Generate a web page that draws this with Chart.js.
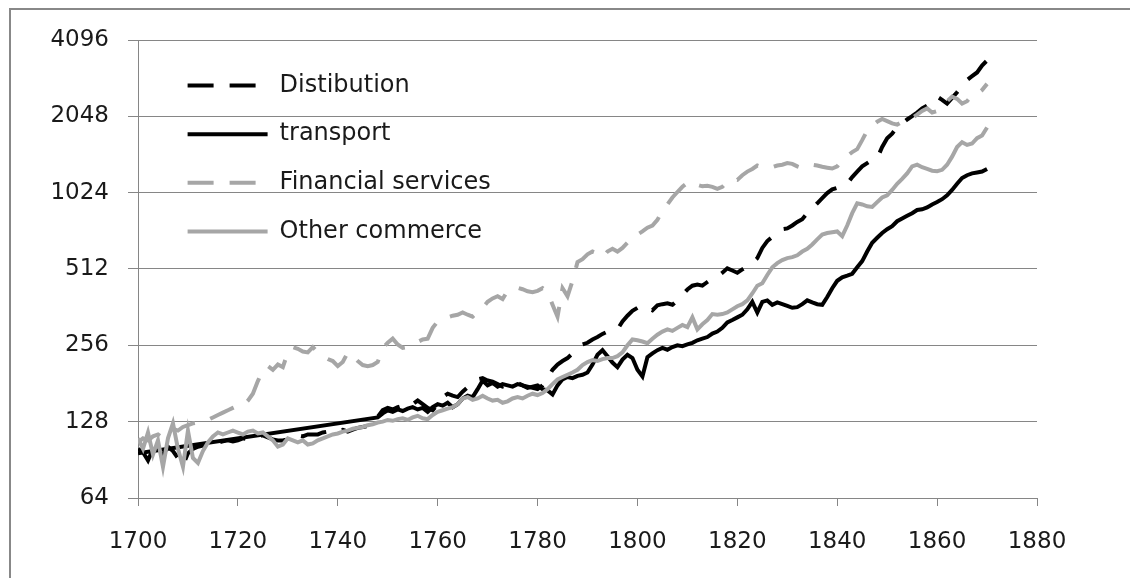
<!DOCTYPE html>
<html>
<head>
<meta charset="utf-8">
<title>Output by sector, 1700-1870</title>
<script src="https://cdn.jsdelivr.net/npm/chart.js@4.4.1/dist/chart.umd.min.js"></script>
<style>
  html, body {
    margin: 0;
    padding: 0;
    background: #ffffff;
  }
  #myChart {
    display: block;
  }
</style>
</head>
<body>
<canvas id="myChart" width="1130" height="578"></canvas>
<script>
// One point per year, 1700 to 1870
const years = [];
for (let yr = 1700; yr <= 1870; yr++) years.push(yr);

const yTicks = [64, 128, 256, 512, 1024, 2048, 4096];

// Values (log2 axis)
const distribution = [
  100, 97, 90, 100, 103, 95, 102, 98, 92, 86,
  96, 100, 102, 103, 104, 105, 106, 107, 108, 107,
  108, 110, 109, 111, 112, 113, 111, 109, 108, 108,
  109, 111, 113, 112, 114, 114, 114, 116, 117, 116,
  118, 119, 117, 119, 121, 122, 123, 125, 134, 142,
  145, 143, 146, 148, 146, 150, 155, 150, 145, 142,
  150, 160, 165, 162, 160, 168, 175, 182, 188, 190,
  186, 184, 180, 176, 178, 180, 182, 178, 176, 174,
  172, 178, 190, 205, 215, 222, 228, 238, 250, 258,
  262, 270, 276, 284, 290, 292, 296, 318, 335, 350,
  360, 368, 360, 352, 368, 372, 375, 370, 385, 405,
  425, 440, 445, 440, 455, 470, 478, 495, 515, 505,
  495, 510, 525, 540, 565, 620, 660, 685, 715, 735,
  740, 760, 785, 805, 850, 890, 930, 975, 1020, 1055,
  1070, 1090, 1110, 1180, 1240, 1300, 1340, 1380, 1400, 1550,
  1680, 1750, 1860, 1920, 1990, 2050, 2120, 2200, 2260, 2320,
  2450, 2380, 2300, 2420, 2550, 2700, 2850, 2950, 3050, 3250, 3400,
];

// transport has no yearly figures between 1700 and 1748 (drawn as a straight line)
const transport = [
  96, null, null, null, null, null, null, null, null, null,
  null, null, null, null, null, null, null, null, null, null,
  null, null, null, null, null, null, null, null, null, null,
  null, null, null, null, null, null, null, null, null, null,
  null, null, null, null, null, null, null, null, 133, 138,
  142, 140, 143, 141, 144, 146, 143, 145, 140, 146,
  150, 148, 152, 146, 150, 158, 162, 160, 172, 186,
  178, 182, 176, 180, 178, 176, 180, 178, 174, 176,
  178, 172, 170, 164, 178, 188, 192, 190, 194, 196,
  200, 215, 235, 245, 232, 219, 210, 225, 235, 228,
  205, 193, 230, 238, 245, 250, 246, 252, 256, 254,
  258, 262, 268, 272, 276, 285, 290, 300, 315, 322,
  330, 338, 355, 380, 345, 380, 385, 370, 378, 372,
  366, 360, 362, 372, 385, 378, 372, 370, 397, 430,
  460, 475, 482, 490, 520, 550, 600, 650, 680, 710,
  735, 755, 790, 810, 830, 850, 875, 880, 895, 920,
  940, 965, 1000, 1050, 1110, 1170, 1200, 1220, 1230, 1240, 1270,
];

const financial = [
  106, 110, 108, 112, 114, 110, 116, 120, 118, 122,
  124, 126, 127, 128, 130, 133, 136, 139, 142, 145,
  148, 148, 155, 165, 185, 205, 212, 205, 215, 210,
  240, 252, 248, 242, 240, 252, 240, 232, 226, 222,
  212, 220, 240, 232, 222, 214, 212, 214, 220, 250,
  262, 272, 258, 250, 252, 258, 264, 270, 272, 300,
  318, 325, 330, 335, 338, 345, 338, 332, 345, 360,
  380, 392, 400, 390, 420, 428, 432, 426, 418, 415,
  420, 430, 415, 370, 332, 430, 400, 460, 545, 560,
  585, 600, 590, 570, 600, 615, 600, 620, 650, 660,
  700, 720, 745, 760, 800, 870, 920, 980, 1030, 1080,
  1120, 1135, 1100, 1085, 1090, 1080, 1060, 1080, 1130, 1160,
  1150, 1200, 1240, 1270, 1310, 1290, 1280, 1290, 1310, 1320,
  1340, 1330, 1300, 1280, 1300, 1320, 1310, 1295, 1285, 1275,
  1300, 1380, 1430, 1480, 1520, 1650, 1800, 1880, 1950, 2000,
  1960, 1920, 1900, 1950, 1990, 2020, 2080, 2150, 2200, 2120,
  2150, 2220, 2350, 2450, 2400, 2300, 2350, 2480, 2500, 2600, 2750,
];

const otherCommerce = [
  110, 100, 116, 95, 108, 85, 110, 126, 100, 85,
  118, 92, 88, 98, 106, 112, 116, 114, 116, 118,
  116, 114, 117, 118, 115, 116, 112, 108, 102, 104,
  110, 108, 106, 108, 104, 105, 108, 110, 112, 114,
  115, 117, 118, 120, 121, 122, 124, 125, 127, 128,
  130, 129, 131, 132, 130, 133, 135, 132, 131, 136,
  140, 142, 144, 146, 150, 158, 160, 156, 158, 162,
  158, 155, 156, 152, 154, 158, 160, 158, 162, 165,
  163, 166, 172, 180, 188, 192, 196, 200, 205, 214,
  220, 224, 222, 226, 228, 228, 232, 240, 256, 270,
  268, 265, 261, 272, 282, 290, 296, 292, 300, 308,
  302, 330, 296, 310, 322, 340, 338, 340, 345, 355,
  365, 372, 385, 410, 440, 450, 485, 520, 540, 555,
  565, 570, 580, 600, 615, 640, 670, 700, 710, 715,
  720, 690, 760, 850, 930, 920, 905, 900, 940, 980,
  1000, 1050, 1110, 1160, 1220, 1300, 1320, 1290, 1270, 1250,
  1245, 1260, 1320, 1420, 1550, 1620, 1580, 1600, 1680, 1720, 1850,
];

document.addEventListener("DOMContentLoaded", () => {
  const ctx = document.getElementById("myChart").getContext("2d");

  const BLACK = "#000000";
  const GREY = "#a6a6a6";
  const AXIS = "#868686";
  const TEXT = "#1a1a1a";
  const font = { family: "'DejaVu Sans', sans-serif", size: 23 };

  // Build one line dataset
  function series(label, data, color, dashed, order) {
    return {
      label: label,
      data: data,
      borderColor: color,
      backgroundColor: color,
      borderWidth: 4,
      borderDash: dashed ? [26, 16] : [],
      pointRadius: 0,
      pointHoverRadius: 0,
      pointBorderWidth: 4,
      pointStyle: "line",
      tension: 0,
      spanGaps: true,
      fill: false,
      order: order,
    };
  }

  // Put the legend inside the plot, top left
  const legendInside = {
    id: "legendInside",
    afterLayout(chart) {
      const legend = chart.legend;
      legend.left = 163;
      legend.top = 49;
      legend.width = 420;
      legend.height = 300;
      legend.right = legend.left + legend.width;
      legend.bottom = legend.top + legend.height;
    },
  };

  // Grey frame round the chart (left and top edges show)
  const chartFrame = {
    id: "chartFrame",
    beforeDraw(chart) {
      const c = chart.ctx;
      c.save();
      c.strokeStyle = "#888888";
      c.lineWidth = 2;
      c.beginPath();
      c.moveTo(10, chart.height);
      c.lineTo(10, 9);
      c.lineTo(chart.width, 9);
      c.stroke();
      c.restore();
    },
  };

  new Chart(ctx, {
    type: "line",
    data: {
      labels: years,
      datasets: [
        series("Distibution", distribution, BLACK, true, 3),
        series("transport", transport, BLACK, false, 2),
        series("Financial services", financial, GREY, true, 1),
        series("Other commerce", otherCommerce, GREY, false, 0),
      ],
    },
    plugins: [legendInside, chartFrame],
    options: {
      responsive: false,
      animation: false,
      devicePixelRatio: 1,
      layout: { padding: { top: 40, right: 93, bottom: 0, left: 0 } },
      plugins: {
        tooltip: { enabled: false },
        legend: {
          position: "chartArea",
          align: "start",
          labels: {
            usePointStyle: true,
            pointStyle: "line",
            pointStyleWidth: 80,
            padding: 24.6,
            color: TEXT,
            font: { family: font.family, size: 24 },
            sort: (a, b) => a.datasetIndex - b.datasetIndex,
            // keep the dash pattern of each line in the legend sample
            generateLabels: (chart) => {
              const items = Chart.defaults.plugins.legend.labels.generateLabels(chart);
              items.forEach((item) => {
                const ds = chart.data.datasets[item.datasetIndex];
                item.lineDash = ds.borderDash;
                item.lineWidth = ds.borderWidth;
                item.strokeStyle = ds.borderColor;
                item.pointStyle = "line";
              });
              return items;
            },
          },
        },
      },
      scales: {
        x: {
          type: "linear",
          min: 1700,
          max: 1880,
          afterFit: (scale) => {
            scale.height = 80;
          },
          ticks: {
            stepSize: 20,
            padding: 22,
            maxRotation: 0,
            autoSkip: false,
            color: TEXT,
            font: font,
            callback: (value) => String(value),
          },
          grid: {
            drawOnChartArea: false,
            drawTicks: true,
            tickLength: 8,
            color: AXIS,
          },
          border: { display: true, color: AXIS, width: 1 },
        },
        y: {
          type: "logarithmic",
          min: 64,
          max: 4096,
          afterFit: (scale) => {
            scale.width = 138;
          },
          afterBuildTicks: (scale) => {
            scale.ticks = yTicks.map((v) => ({ value: v }));
          },
          ticks: {
            padding: 19,
            color: TEXT,
            font: font,
            callback: (value) => String(value),
          },
          grid: {
            color: AXIS,
            tickLength: 10,
          },
          border: { display: true, color: AXIS, width: 1 },
        },
      },
    },
  });
});
</script>
</body>
</html>
